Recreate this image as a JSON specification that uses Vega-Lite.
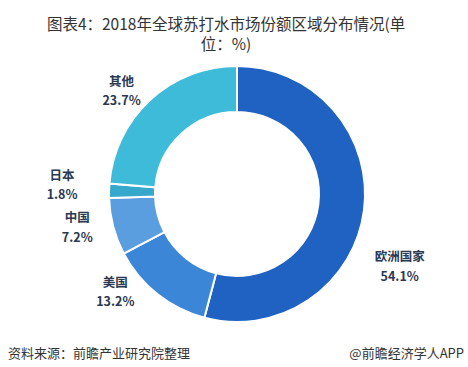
{
  "$schema": "https://vega.github.io/schema/vega-lite/v6.json",
  "width": 462,
  "height": 284,
  "autosize": {"type": "none"},
  "padding": {"left": 6, "top": 52, "right": 0, "bottom": 31},
  "background": "white",
  "config": {"view": {"stroke": null}},
  "title": {
    "text": ["图表4：2018年全球苏打水市场份额区域分布情况(单", "位：%)"],
    "font": "Noto Sans CJK SC",
    "fontSize": 15.5,
    "fontWeight": "normal",
    "color": "#333333",
    "lineHeight": 20,
    "anchor": "middle",
    "frame": "group",
    "dx": -11,
    "offset": -1
  },
  "data": {
    "values": [
      {"region": "欧洲国家", "share": 54.1, "order": 1},
      {"region": "美国", "share": 13.2, "order": 2},
      {"region": "中国", "share": 7.2, "order": 3},
      {"region": "日本", "share": 1.8, "order": 4},
      {"region": "其他", "share": 23.7, "order": 5}
    ]
  },
  "transform": [
    {"stack": "share", "groupby": [], "sort": [{"field": "order", "order": "ascending"}], "as": ["s0", "s1"]},
    {"calculate": "(datum.s0 + datum.s1) / 2", "as": "mid"},
    {"calculate": "datum.region + '\\n' + format(datum.share, '.1f') + '%'", "as": "label"}
  ],
  "layer": [
    {
      "mark": {"type": "arc", "outerRadius": 128, "innerRadius": 82, "stroke": "white", "strokeWidth": 2},
      "encoding": {
        "theta": {"field": "s0", "type": "quantitative", "scale": {"domain": [0, 100], "range": [0, 6.283185307]}},
        "theta2": {"field": "s1"},
        "color": {
          "field": "region",
          "type": "nominal",
          "scale": {
            "domain": ["欧洲国家", "美国", "中国", "日本", "其他"],
            "range": ["#1f62c2", "#3c86d8", "#5b9ee0", "#35a8cb", "#3dbbd8"]
          },
          "legend": null
        }
      }
    },
    {
      "transform": [{"filter": "datum.region == '欧洲国家'"}],
      "mark": {"type": "text", "radius": 160, "dx": 4, "dy": 42, "font": "Noto Sans CJK SC", "fontSize": 12.5, "fontWeight": "bold", "color": "#2a3852", "lineBreak": "\n", "lineHeight": 20, "align": "center"},
      "encoding": {"theta": {"field": "mid", "type": "quantitative", "scale": {"domain": [0, 100], "range": [0, 6.283185307]}}, "text": {"field": "label"}}
    },
    {
      "transform": [{"filter": "datum.region == '美国'"}],
      "mark": {"type": "text", "radius": 160, "dx": -22, "dy": -36, "font": "Noto Sans CJK SC", "fontSize": 12.5, "fontWeight": "bold", "color": "#2a3852", "lineBreak": "\n", "lineHeight": 19, "align": "center"},
      "encoding": {"theta": {"field": "mid", "type": "quantitative", "scale": {"domain": [0, 100], "range": [0, 6.283185307]}}, "text": {"field": "label"}}
    },
    {
      "transform": [{"filter": "datum.region == '中国'"}],
      "mark": {"type": "text", "radius": 160, "dx": -5, "dy": -17, "font": "Noto Sans CJK SC", "fontSize": 12.5, "fontWeight": "bold", "color": "#2a3852", "lineBreak": "\n", "lineHeight": 20, "align": "center"},
      "encoding": {"theta": {"field": "mid", "type": "quantitative", "scale": {"domain": [0, 100], "range": [0, 6.283185307]}}, "text": {"field": "label"}}
    },
    {
      "transform": [{"filter": "datum.region == '日本'"}],
      "mark": {"type": "text", "radius": 160, "dx": -15, "dy": -14, "font": "Noto Sans CJK SC", "fontSize": 12.5, "fontWeight": "bold", "color": "#2a3852", "lineBreak": "\n", "lineHeight": 19, "align": "center"},
      "encoding": {"theta": {"field": "mid", "type": "quantitative", "scale": {"domain": [0, 100], "range": [0, 6.283185307]}}, "text": {"field": "label"}}
    },
    {
      "transform": [{"filter": "datum.region == '其他'"}],
      "mark": {"type": "text", "radius": 160, "dx": -7, "dy": 6, "font": "Noto Sans CJK SC", "fontSize": 12.5, "fontWeight": "bold", "color": "#2a3852", "lineBreak": "\n", "lineHeight": 19, "align": "center"},
      "encoding": {"theta": {"field": "mid", "type": "quantitative", "scale": {"domain": [0, 100], "range": [0, 6.283185307]}}, "text": {"field": "label"}}
    },
    {
      "data": {"values": [{"t": "资料来源：前瞻产业研究院整理"}]},
      "transform": [],
      "mark": {"type": "text", "x": 2, "y": {"expr": "height + 22"}, "align": "left", "baseline": "alphabetic", "font": "Noto Sans CJK SC", "fontSize": 13, "color": "#333333"},
      "encoding": {"text": {"field": "t"}}
    },
    {
      "data": {"values": [{"t": "@前瞻经济学人APP"}]},
      "transform": [],
      "mark": {"type": "text", "x": {"expr": "width - 4"}, "y": {"expr": "height + 22"}, "align": "right", "baseline": "alphabetic", "font": "Noto Sans CJK SC", "fontSize": 13, "color": "#333333"},
      "encoding": {"text": {"field": "t"}}
    }
  ]
}
